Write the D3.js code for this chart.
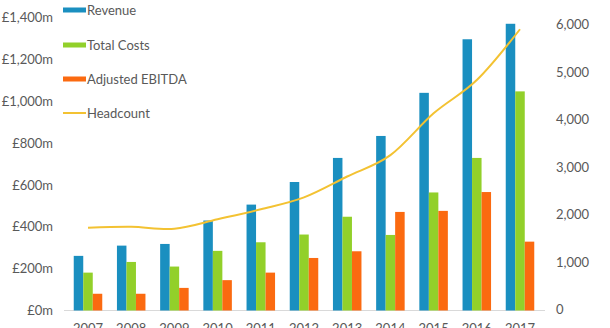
<!DOCTYPE html>
<html>
<head>
<meta charset="utf-8">
<script src="https://cdn.jsdelivr.net/npm/d3@7"></script>
<style>
  html, body { margin: 0; padding: 0; background: #fff; }
  svg { display: block; font-family: Lato, "Open Sans", sans-serif; }
</style>
</head>
<body>
<svg id="chart" width="610" height="328"></svg>
<script>
// Financial results and headcount, 2007–2017
const years = ["2007", "2008", "2009", "2010", "2011", "2012", "2013", "2014", "2015", "2016", "2017"];
const revenue = [261, 310, 318, 430, 506, 614, 729, 834, 1040, 1296, 1370];     // £m
const totalCosts = [181, 232, 210, 285, 326, 363, 448, 361, 564, 729, 1047];    // £m
const adjustedEbitda = [80, 80, 108, 145, 181, 251, 283, 471, 476, 566, 329];   // £m
const headcount = [1720, 1740, 1700, 1900, 2110, 2360, 2800, 3250, 4130, 4830, 5900];

const moneyTicks = [0, 200, 400, 600, 800, 1000, 1200, 1400];
const headTicks = [0, 1000, 2000, 3000, 4000, 5000, 6000];

const seriesNames = ["Revenue", "Total Costs", "Adjusted EBITDA"];
const seriesValues = [revenue, totalCosts, adjustedEbitda];
const colors = ["#1a8fc0", "#92d02a", "#fb6a10"];
const lineColor = "#f3c232";
const textColor = "#595959";

const svg = d3.select("#chart");

const x = d3.scaleBand().domain(years).range([66.4, 541.6])
  .paddingInner(0.34).paddingOuter(0.17);
const xSub = d3.scaleBand().domain(d3.range(seriesNames.length)).range([0, x.bandwidth()]);
const yLeft = d3.scaleLinear().domain([0, 1400]).range([310.5, 17.5]);
const yRight = d3.scaleLinear().domain([0, 6000]).range([309.5, 24.5]);

// baseline
svg.append("line")
  .attr("x1", 64).attr("x2", 545)
  .attr("y1", yLeft(0)).attr("y2", yLeft(0))
  .attr("stroke", "#d9d9d9").attr("stroke-width", 1);

// left axis (money)
const leftAxis = svg.append("g")
  .attr("transform", "translate(53,0)")
  .call(d3.axisLeft(yLeft).tickValues(moneyTicks).tickSize(0).tickPadding(0)
    .tickFormat(d => "£" + d3.format(",")(d) + "m"));
leftAxis.select(".domain").remove();
leftAxis.selectAll("text").attr("fill", textColor).style("font-size", "13px")
  .style("font-family", "Lato, 'Open Sans', sans-serif");

// right axis (headcount)
const rightAxis = svg.append("g")
  .attr("transform", "translate(556,0)")
  .call(d3.axisRight(yRight).tickValues(headTicks).tickSize(0).tickPadding(0)
    .tickFormat(d3.format(",")));
rightAxis.select(".domain").remove();
rightAxis.selectAll("text").attr("fill", textColor).style("font-size", "13px")
  .style("font-family", "Lato, 'Open Sans', sans-serif");

// x axis labels (year row sits at the lower edge of the frame)
const bottomAxis = svg.append("g")
  .attr("transform", `translate(0,${yLeft(0)})`)
  .call(d3.axisBottom(x).tickSize(0).tickPadding(13));
bottomAxis.select(".domain").remove();
bottomAxis.selectAll("text").attr("fill", textColor).style("font-size", "13px")
  .style("font-family", "Lato, 'Open Sans', sans-serif");

// grouped bars
const groups = svg.append("g").selectAll("g")
  .data(years)
  .join("g")
  .attr("transform", d => `translate(${x(d)},0)`);

groups.selectAll("rect")
  .data((d, i) => seriesValues.map((vals, s) => ({ s, v: vals[i] })))
  .join("rect")
  .attr("x", d => xSub(d.s))
  .attr("width", xSub.bandwidth())
  .attr("y", d => yLeft(d.v))
  .attr("height", d => yLeft(0) - yLeft(d.v))
  .attr("fill", d => colors[d.s]);

// headcount line, smoothed
const line = d3.line()
  .x((d, i) => x(years[i]) + x.bandwidth() / 2)
  .y(d => yRight(d))
  .curve(d3.curveCatmullRom.alpha(0));

svg.append("path")
  .datum(headcount)
  .attr("d", line)
  .attr("fill", "none")
  .attr("stroke", lineColor)
  .attr("stroke-width", 2);

// legend
const legendY = [10, 45, 79, 113];
const legend = svg.append("g");
seriesNames.forEach((name, i) => {
  legend.append("rect")
    .attr("x", 63).attr("y", legendY[i] - 2.5)
    .attr("width", 23).attr("height", 5)
    .attr("fill", colors[i]);
  legend.append("text")
    .attr("x", 87).attr("y", legendY[i])
    .attr("dy", "0.35em")
    .attr("fill", textColor).style("font-size", "13px")
    .text(name);
});
legend.append("line")
  .attr("x1", 63).attr("x2", 86)
  .attr("y1", legendY[3]).attr("y2", legendY[3])
  .attr("stroke", lineColor).attr("stroke-width", 2);
legend.append("text")
  .attr("x", 87).attr("y", legendY[3])
  .attr("dy", "0.35em")
  .attr("fill", textColor).style("font-size", "13px")
  .text("Headcount");
</script>
</body>
</html>
